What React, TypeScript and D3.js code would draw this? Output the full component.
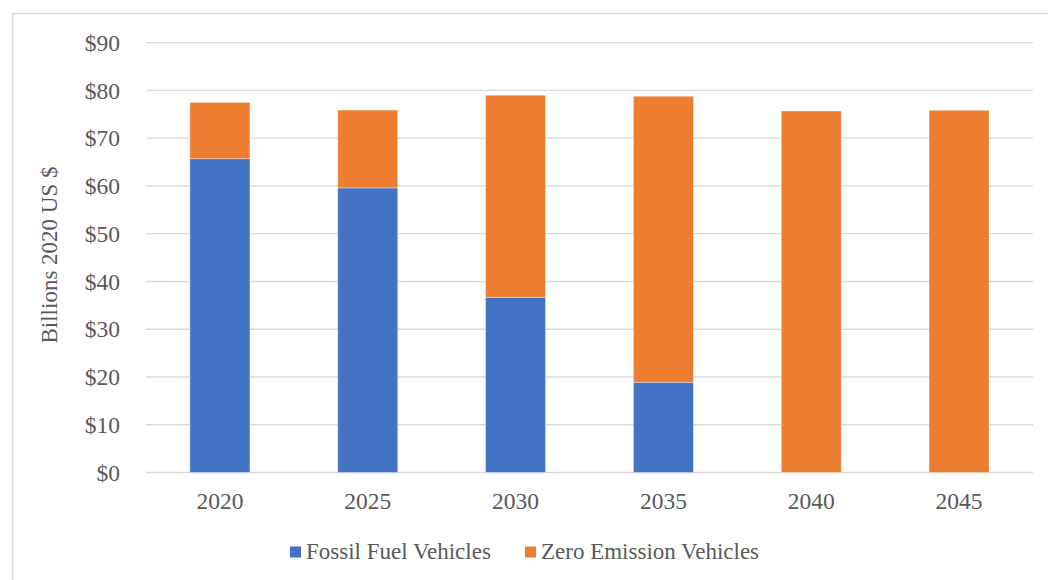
import React, { useEffect, useRef } from "react";
import * as d3 from "d3";

const years = ["2020", "2025", "2030", "2035", "2040", "2045"];
const fossil = [65.7, 59.6, 36.7, 18.9, 0, 0];
const zeroEmission = [11.8, 16.3, 42.3, 59.9, 75.7, 75.85];
const seriesNames = ["Fossil Fuel Vehicles", "Zero Emission Vehicles"];
const colors = ["#4472c4", "#ed7d31"];
const yTicks = [0, 10, 20, 30, 40, 50, 60, 70, 80, 90];

const App = () => {
  const ref = useRef<SVGSVGElement>(null);

  useEffect(() => {
    const svg = d3.select(ref.current);
    svg.selectAll("*").remove();
    const font = "'Liberation Serif', 'Times New Roman', serif";
    const textColor = "#595959";

    const left = 146;
    const right = 1033;
    const top = 42.7;
    const bottom = 472.5;

    // chart border
    svg
      .append("rect")
      .attr("x", 12.5)
      .attr("y", 13.5)
      .attr("width", 1100)
      .attr("height", 700)
      .attr("fill", "#fff")
      .attr("stroke", "#d9d9d9")
      .attr("stroke-width", 1.5);

    const x = d3.scaleBand().domain(years).range([left, right]).padding(0);
    const y = d3.scaleLinear().domain([0, 90]).range([bottom, top]);

    // gridlines
    svg
      .append("g")
      .selectAll("line")
      .data(yTicks)
      .enter()
      .append("line")
      .attr("x1", left)
      .attr("x2", right)
      .attr("y1", (d) => y(d))
      .attr("y2", (d) => y(d))
      .attr("stroke", "#d9d9d9")
      .attr("stroke-width", 1.3);

    // y tick labels
    svg
      .append("g")
      .selectAll("text")
      .data(yTicks)
      .enter()
      .append("text")
      .attr("x", 120)
      .attr("y", (d) => y(d))
      .attr("dy", "0.35em")
      .attr("text-anchor", "end")
      .style("font-family", font)
      .style("font-size", "23.5px")
      .style("fill", textColor)
      .text((d) => "$" + d);

    // stacked bars
    const rows = years.map((yr, i) => ({ year: yr, fossil: fossil[i], zero: zeroEmission[i] }));
    const stack = d3.stack<any>().keys(["fossil", "zero"])(rows);
    const barW = x.bandwidth() * 0.406;

    stack.forEach((layer, li) => {
      svg
        .append("g")
        .selectAll("rect")
        .data(layer.filter((d) => d[1] - d[0] > 0))
        .enter()
        .append("rect")
        .attr("x", (d) => x(d.data.year)! + (x.bandwidth() - barW) / 2)
        .attr("y", (d) => y(d[1]))
        .attr("width", barW)
        .attr("height", (d) => y(d[0]) - y(d[1]))
        .attr("fill", colors[li])
        .attr("stroke", "#fff")
        .attr("stroke-opacity", 0.5)
        .attr("stroke-width", 0.75);
    });

    // x labels
    svg
      .append("g")
      .selectAll("text")
      .data(years)
      .enter()
      .append("text")
      .attr("x", (d) => x(d)! + x.bandwidth() / 2)
      .attr("y", 508.5)
      .attr("text-anchor", "middle")
      .style("font-family", font)
      .style("font-size", "23.5px")
      .style("fill", textColor)
      .text((d) => d);

    // y axis title
    svg
      .append("text")
      .attr("transform", `translate(57, 255) rotate(-90)`)
      .attr("text-anchor", "middle")
      .style("font-family", font)
      .style("font-size", "23px")
      .style("fill", textColor)
      .text("Billions 2020 US $");

    // legend
    const legendX = [290, 525];
    seriesNames.forEach((name, i) => {
      const g = svg.append("g").attr("transform", `translate(${legendX[i]}, 546.5)`);
      g.append("rect").attr("width", 11).attr("height", 11).attr("fill", colors[i]);
      g.append("text")
        .attr("x", 16)
        .attr("y", 12.5)
        .style("font-family", font)
        .style("font-size", "23px")
        .style("fill", textColor)
        .text(name);
    });
  }, []);

  return <svg ref={ref} width={1048} height={580} style={{ position: "absolute", left: 0, top: 0 }} />;
};

export default App;
